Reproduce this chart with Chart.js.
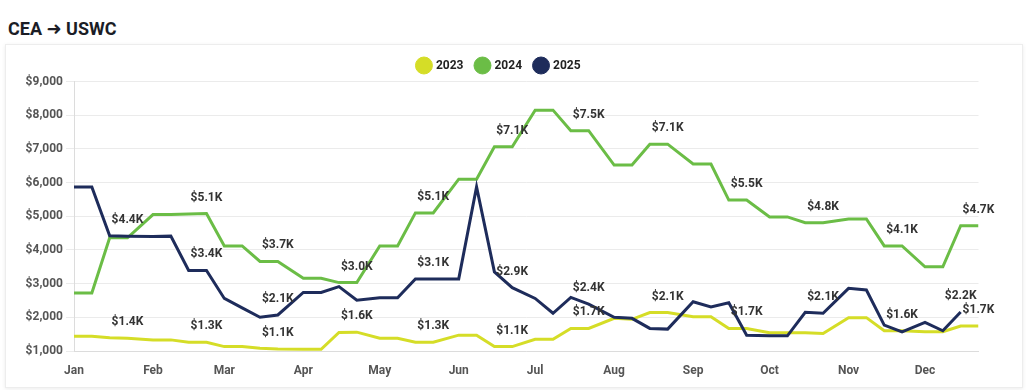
<!DOCTYPE html>
<html><head><meta charset="utf-8">
<script src="https://cdn.jsdelivr.net/npm/chart.js@4.4.1/dist/chart.umd.min.js"></script>
<style>
html,body{margin:0;padding:0;background:#fff;width:1027px;height:390px;overflow:hidden;}
#title{position:absolute;left:8px;top:18px;font-family:Roboto,'DejaVu Sans',sans-serif;font-weight:bold;font-size:18px;line-height:22px;color:#1b1d26;white-space:nowrap;}
#card{position:absolute;left:5px;top:44px;width:1016px;height:342px;border:1px solid #ededed;box-shadow:0 1px 4px rgba(0,0,0,0.08);background:#fff;}
#c{position:absolute;left:0;top:0;}
</style></head><body>
<div id="title">CEA ➜ USWC</div>
<div id="card"></div>
<canvas id="c" width="1027" height="390"></canvas>
<script>
// Weekly sample dates (MM-DD)
const categories = ['01-01','01-08','01-15','01-22','02-01','02-08','02-15','02-22','03-01','03-08','03-15','03-22',
  '04-01','04-08','04-15','04-22','05-01','05-08','05-15','05-22','06-01','06-08','06-15','06-22',
  '07-01','07-08','07-15','07-22','08-01','08-08','08-15','08-22','09-01','09-08','09-15','09-22',
  '10-01','10-08','10-15','10-22','11-01','11-08','11-15','11-22','12-01','12-08','12-15','12-22'];
const monthLabels = ['Jan','Feb','Mar','Apr','May','Jun','Jul','Aug','Sep','Oct','Nov','Dec'];
const monthStartDays = [0,31,59,90,120,151,181,212,243,273,304,334];

const series2023 = [1440,1440,1390,1380, 1330,1330,1260,1260, 1130,1130,1080,1060,
  1050,1050,1550,1560, 1380,1380,1260,1260, 1470,1470,1130,1130,
  1350,1350,1670,1670, 1970,1940,2140,2140, 2020,2020,1670,1670,
  1540,1540,1540,1520, 1990,1990,1600,1600, 1570,1570,1740,1740];
const series2024 = [2720,2720,4360,4360, 5050,5050,5070,5080, 4120,4120,3660,3660,
  3160,3160,3030,3030, 4120,4120,5100,5100, 6100,6100,7060,7060,
  8150,8150,7540,7540, 6520,6520,7140,7140, 6550,6550,5480,5480,
  4980,4980,4810,4810, 4920,4920,4120,4120, 3500,3500,4720,4720];
const series2025 = [5870,5870,4420,4410, 4400,4410,3390,3390, 2560,2280,2000,2070,
  2740,2740,2910,2510, 2580,2580,3140,3140, 3140,5870,3350,2880,
  2560,2120,2590,2390, 2000,1970,1670,1650, 2460,2310,2430,1470,
  1450,1450,2150,2120, 2860,2810,1770,1570, 1850,1600,2160,null];
const seriesNames = ['2023','2024','2025'];
const yTickMin = 1000, yTickMax = 9000, yTickStep = 1000;

const COLORS = ['#d5dd27','#6bbd46','#1e2c5b'];
const FONT = 'Roboto, sans-serif';

function dayOfYear(s){ const [m,d] = s.split('-').map(Number); return monthStartDays[m-1] + d - 1; }
const xs = categories.map(dayOfYear);
const toPts = arr => arr.map((v,i) => ({x: xs[i], y: v}));

const labelPlugin = {
  id: 'weekLabels',
  afterDatasetsDraw(chart){
    const ctx = chart.ctx;
    ctx.save();
    ctx.font = 'bold 12px ' + FONT;
    const cands = [];
    chart.data.datasets.forEach((ds, di) => {
      const meta = chart.getDatasetMeta(di);
      if (meta.hidden) return;
      let last = -1;
      ds.data.forEach((p,i) => { if (p.y != null) last = i; });
      ds.data.forEach((p,i) => {
        if (p.y == null) return;
        if (i % 4 !== 3 && i !== last) return;
        const el = meta.data[i];
        const text = '$' + (p.y/1000).toFixed(1) + 'K';
        const w = ctx.measureText(text).width + 8, h = 22;
        cands.push({text, cx: el.x, cy: el.y - 16, w, h, forced: i === last, idx: i, v: p.y});
      });
    });
    cands.sort((a,b) => (b.forced - a.forced) || (a.idx - b.idx) || (b.v - a.v));
    const shown = [];
    for (const c of cands){
      const hit = shown.some(s => Math.abs(s.cx - c.cx) < (s.w + c.w)/2 && Math.abs(s.cy - c.cy) < (s.h + c.h)/2);
      if (hit && !c.forced) continue;
      shown.push(c);
    }
    ctx.fillStyle = '#333';
    ctx.textAlign = 'center';
    ctx.textBaseline = 'middle';
    shown.forEach(c => ctx.fillText(c.text, c.cx, c.cy));
    ctx.restore();
  }
};

const allSeries = [series2023, series2024, series2025];
new Chart(document.getElementById('c'), {
  type: 'line',
  data: {
    datasets: allSeries.map((arr, i) => ({
      label: seriesNames[i],
      data: toPts(arr),
      borderColor: COLORS[i],
      backgroundColor: COLORS[i],
      borderWidth: 3,
      order: 3 - i
    }))
  },
  options: {
    responsive: false,
    animation: false,
    layout: {padding: {left: 20, right: 48.5, top: 46.5, bottom: 6}},
    elements: {line: {tension: 0}, point: {radius: 0, hoverRadius: 0}},
    plugins: {
      legend: {
        display: true, position: 'top', align: 'center',
        labels: {
          usePointStyle: true, pointStyle: 'circle', boxWidth: 12, boxHeight: 12, padding: 13,
          font: {family: FONT, size: 12, weight: 'bold'}, color: '#222',
          sort: (a,b) => a.datasetIndex - b.datasetIndex,
          generateLabels: (chart) => Chart.defaults.plugins.legend.labels.generateLabels(chart).map(l => Object.assign(l, {lineWidth: 1}))
        }
      },
      tooltip: {enabled: false},
      title: {display: false}
    },
    scales: {
      x: {
        type: 'linear', min: 0, max: dayOfYear(categories[categories.length-1]),
        afterBuildTicks: s => { s.ticks = monthStartDays.map(v => ({value: v})); },
        ticks: {autoSkip: false, maxRotation: 0, padding: 5, color: '#555',
          font: {family: FONT, size: 12, weight: 'bold'},
          callback: v => monthLabels[monthStartDays.indexOf(v)]},
        grid: {display: false},
        border: {display: true, color: '#dcdcdc'},
        afterFit: s => { s.height = 33; }
      },
      y: {
        min: yTickMin, max: yTickMax,
        ticks: {stepSize: yTickStep, padding: 3, color: '#555',
          font: {family: FONT, size: 12, weight: 'bold'},
          callback: v => '$' + Number(v).toLocaleString('en-US')},
        grid: {color: '#ebebeb', tickLength: 8},
        border: {display: true, color: '#dcdcdc'},
        afterFit: s => { s.width = 54; }
      }
    }
  },
  plugins: [labelPlugin]
});
</script>
</body></html>
